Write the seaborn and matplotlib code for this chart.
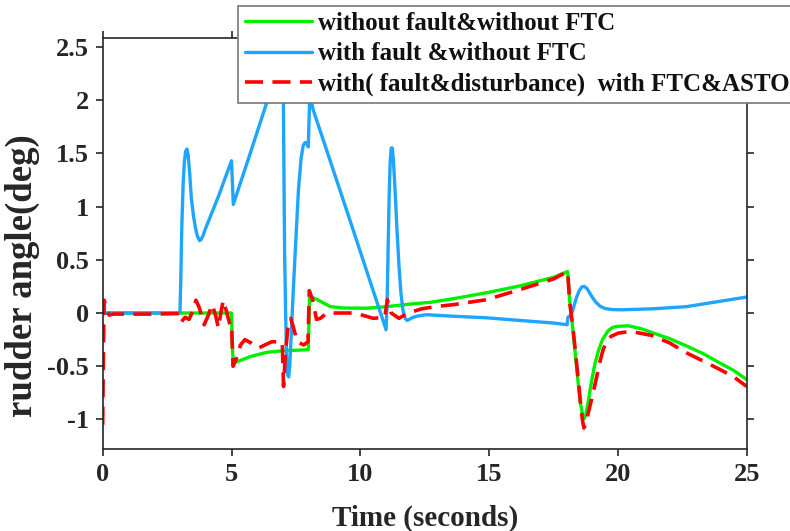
import matplotlib
matplotlib.use("Agg")
import matplotlib.pyplot as plt
import seaborn as sns
import pandas as pd
from matplotlib.lines import Line2D

# ---------------- data ----------------
t_green = [0, 5.0, 5.03, 5.07, 5.3, 5.72, 6.36, 7.0, 7.5, 7.98, 8.03, 8.2, 8.45, 8.84,
           9.35, 10.26, 11.04, 11.94, 12.71, 13.6, 14.9, 16.2, 17.5, 18.05, 18.13, 18.26,
           18.45, 18.55, 18.63, 18.7, 18.76, 18.85, 18.95, 19.1, 19.25, 19.4, 19.62, 19.8,
           20.0, 20.4, 20.9, 21.4, 22.0, 22.67, 23.3, 23.96, 24.5, 25.0]
v_green = [0, 0, -0.3, -0.47, -0.45, -0.41, -0.37, -0.354, -0.35, -0.344, 0.156, 0.14, 0.11, 0.06,
           0.047, 0.045, 0.06, 0.084, 0.1, 0.134, 0.19, 0.255, 0.335, 0.39, 0.11, -0.17,
           -0.64, -0.85, -0.96, -0.99, -0.95, -0.83, -0.68, -0.485, -0.35, -0.25, -0.166, -0.135,
           -0.125, -0.12, -0.147, -0.19, -0.24, -0.31, -0.38, -0.47, -0.54, -0.625]

t_blue = [0, 3.0, 3.03, 3.07, 3.12, 3.17, 3.22, 3.27, 3.32, 3.38, 3.44, 3.52, 3.6, 3.68,
          3.76, 3.82, 3.9, 3.97, 4.5, 5.0, 5.07, 5.7, 6.36, 7.0, 7.03, 7.06, 7.1, 7.14,
          7.18, 7.22, 7.26, 7.32, 7.4, 7.5, 7.6, 7.7, 7.78, 7.85, 7.92, 7.98, 8.04, 8.17,
          9.6, 11.0, 11.04, 11.08, 11.12, 11.16, 11.2, 11.24, 11.28, 11.34, 11.42, 11.5,
          11.58, 11.66, 11.74, 11.82, 11.9, 12.0, 12.2, 12.56, 13.6, 14.9, 16.2, 17.5,
          18.03, 18.06, 18.12, 18.2, 18.3, 18.4, 18.5, 18.6, 18.7, 18.8, 18.9, 19.0, 19.15,
          19.3, 19.5, 19.8, 20.15, 21.4, 22.67, 23.96, 25.0]
v_blue = [0, 0, 0.3, 0.8, 1.2, 1.42, 1.52, 1.54, 1.48, 1.3, 1.08, 0.92, 0.8, 0.72,
          0.68, 0.69, 0.73, 0.78, 1.1, 1.43, 1.02, 1.48, 1.97, 2.43, 1.5, 0.6, 0.0, -0.4,
          -0.58, -0.6, -0.5, -0.2, 0.22, 0.7, 1.16, 1.45, 1.57, 1.6, 1.6, 1.56, 2.05, 1.91,
          0.87, -0.157, 0.1, 0.6, 1.1, 1.42, 1.55, 1.55, 1.45, 1.2, 0.8, 0.45,
          0.18, 0.02, -0.05, -0.07, -0.06, -0.045, -0.03, -0.016, -0.03, -0.045, -0.07, -0.094,
          -0.11, -0.04, -0.03, -0.01, 0.07, 0.15, 0.21, 0.245, 0.25, 0.23, 0.19, 0.15, 0.1,
          0.065, 0.042, 0.032, 0.03, 0.04, 0.06, 0.11, 0.15]

t_red = [0, 0.03, 0.06, 0.12, 0.25, 0.4, 1.0, 2.0, 3.0, 3.06, 3.2, 3.35, 3.5, 3.62, 3.75,
         3.94, 4.1, 4.25, 4.38, 4.49, 4.6, 4.68, 4.8, 4.94, 5.0, 5.06, 5.2, 5.35, 5.52,
         5.75, 6.04, 6.3, 6.56, 6.97, 7.02, 7.1, 7.2, 7.3, 7.42, 7.55, 7.8, 7.97, 8.02,
         8.15, 8.3, 8.45, 8.7, 9.8, 10.5, 10.95, 11.05, 11.2, 11.5, 11.85, 12.4, 12.9,
         13.6, 14.9, 16.2, 17.5, 18.05, 18.13, 18.26, 18.45, 18.55, 18.62, 18.68, 18.74,
         18.82, 18.9, 19.0, 19.14, 19.3, 19.43, 19.58, 19.73, 20.0, 20.27, 20.66, 21.3,
         22.0, 22.67, 23.3, 23.96, 24.5, 25.0]
v_red = [-1.05, -0.3, 0.12, 0.05, -0.02, -0.01, -0.01, -0.01, -0.005, -0.08, -0.04, -0.06, 0.02, 0.12, 0.05,
         -0.11, -0.02, 0.08, -0.02, -0.14, 0.02, 0.12, 0.02, -0.11, -0.1, -0.5, -0.42, -0.3, -0.25,
         -0.28, -0.33, -0.3, -0.27, -0.27, -0.69, -0.35, -0.12, -0.05, -0.15, -0.27, -0.3, -0.27, 0.21,
         0.12, -0.06, -0.05, 0.0, 0.0, -0.05, -0.04, 0.125, 0.0, -0.05, 0.0, 0.04, 0.06,
         0.078, 0.125, 0.22, 0.32, 0.39, 0.1, -0.15, -0.6, -0.85, -1.0, -1.08, -1.05,
         -0.97, -0.89, -0.79, -0.64, -0.46, -0.34, -0.26, -0.22, -0.19, -0.18, -0.18, -0.21,
         -0.28, -0.375, -0.45, -0.53, -0.6, -0.69]

labels = ["without fault&without FTC",
          "with fault &without FTC",
          "with( fault&disturbance)  with FTC&ASTO"]
x_ticks = [0, 5, 10, 15, 20, 25]
y_ticks = [-1, -0.5, 0, 0.5, 1, 1.5, 2, 2.5]
y_tick_labels = ["-1", "-0.5", "0", "0.5", "1", "1.5", "2", "2.5"]

# ---------------- styling ----------------
sns.set_theme(style="white")
plt.rcParams['font.family'] = ['Liberation Serif', 'DejaVu Serif']
plt.rcParams['font.weight'] = 'bold'
plt.rcParams['axes.labelweight'] = 'bold'

fig = plt.figure(figsize=(7.9, 5.31), dpi=100)
ax = fig.add_axes([102.7/790, 1-449.3/531, (746.7-102.7)/790, (449.3-38.3)/531])

c_green = "#00f000"
c_blue = "#1ea5ff"
c_red = "#ff0000"

df_g = pd.DataFrame({"t": t_green, "v": v_green})
df_b = pd.DataFrame({"t": t_blue, "v": v_blue})
df_r = pd.DataFrame({"t": t_red, "v": v_red})

sns.lineplot(data=df_g, x="t", y="v", ax=ax, color=c_green, lw=2.4,
             sort=False, estimator=None)
sns.lineplot(data=df_b, x="t", y="v", ax=ax, color=c_blue, lw=2.4,
             sort=False, estimator=None)
sns.lineplot(data=df_r, x="t", y="v", ax=ax, color=c_red, lw=2.6,
             sort=False, estimator=None)
ax.lines[2].set_dashes([5, 2.6])
for ln in ax.lines:
    ln.set_solid_joinstyle("round")
    ln.set_dash_joinstyle("round")

ax.set_xlim(0, 25)
ax.set_ylim(-1.28, 2.58)
ax.set_xticks(x_ticks)
ax.set_yticks(y_ticks)
ax.set_yticklabels(y_tick_labels)

for s in ax.spines.values():
    s.set_visible(True)
    s.set_color("#262626")
    s.set_linewidth(1.2)

ax.tick_params(axis="both", which="major", direction="out", length=5, width=1.2,
               color="#262626", labelsize=19, labelcolor="#262626", pad=5,
               top=True, right=True, bottom=True, left=True,
               labeltop=False, labelright=False)
for lab in ax.get_xticklabels() + ax.get_yticklabels():
    lab.set_fontweight("bold")

ax.set_xlabel("Time (seconds)", fontsize=21, fontweight="bold", color="#262626", labelpad=13)
ax.set_ylabel("rudder angle(deg)", fontsize=26.5, fontweight="bold", color="#262626")
ax.yaxis.set_label_coords(-0.098, 0.423)

handles = [Line2D([], [], color=c_green, lw=2.4),
           Line2D([], [], color=c_blue, lw=2.4),
           Line2D([], [], color=c_red, lw=2.6, dashes=[5, 2.6])]
leg = ax.legend(handles, labels, loc="upper left",
                bbox_to_anchor=(238.3/790, 1-5.7/531), bbox_transform=fig.transFigure,
                frameon=True, fancybox=False, framealpha=1,
                edgecolor="#777777", borderaxespad=0, borderpad=0.25,
                handlelength=2.7, handletextpad=0.22, labelspacing=0.3,
                prop={"weight": "bold", "size": 18})
leg.get_frame().set_linewidth(1.2)
for txt in leg.get_texts():
    txt.set_color("#111111")

fig.savefig("out.png", dpi=100)
